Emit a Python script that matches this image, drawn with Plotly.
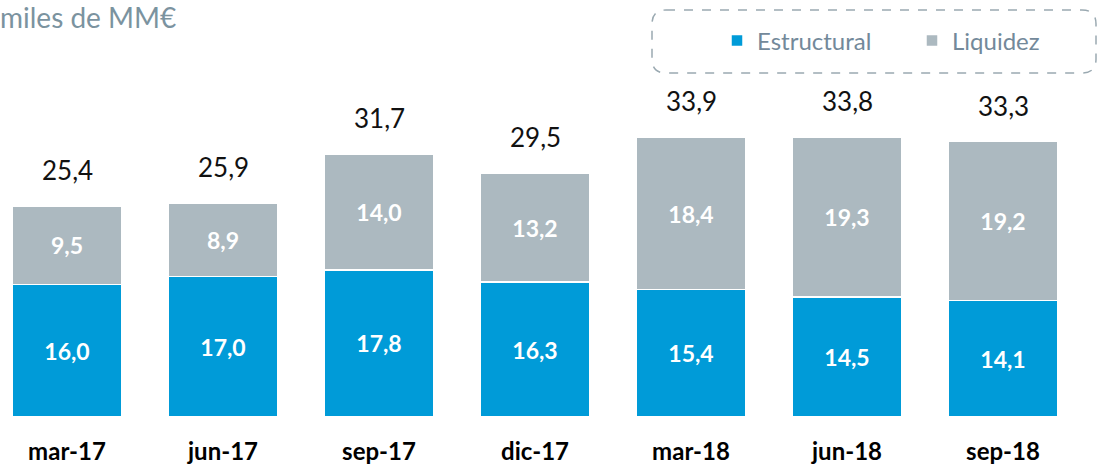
import plotly.graph_objects as go

# Periods and values (miles de MM€)
periodos = ["mar-17", "jun-17", "sep-17", "dic-17", "mar-18", "jun-18", "sep-18"]
estructural = [16.0, 17.0, 17.8, 16.3, 15.4, 14.5, 14.1]
liquidez = [9.5, 8.9, 14.0, 13.2, 18.4, 19.3, 19.2]
totales = [25.4, 25.9, 31.7, 29.5, 33.9, 33.8, 33.3]

AZUL = "#009BD8"
GRIS = "#ACB9C0"
FONT = "Lato"

W, H = 1099, 472
PLOT_H = 417  # height of the plotting area in px (bottom margin 55)


def fmt(v):
    return f"{v:.1f}".replace(".", ",")


fig = go.Figure()
fig.add_trace(go.Bar(
    x=periodos, y=estructural, name="Estructural",
    marker=dict(color=AZUL, line=dict(color="white", width=1.5)),
    text=[fmt(v) for v in estructural], textposition="inside",
    insidetextanchor="middle",
    textfont=dict(family=FONT, size=23, color="white", weight="bold"),
))
fig.add_trace(go.Bar(
    x=periodos, y=liquidez, name="Liquidez",
    marker=dict(color=GRIS, line=dict(color="white", width=1.5)),
    text=[fmt(v) for v in liquidez], textposition="inside",
    insidetextanchor="middle",
    textfont=dict(family=FONT, size=23, color="white", weight="bold"),
))

# Total labels above each stack
for p, e, l, t in zip(periodos, estructural, liquidez, totales):
    fig.add_annotation(
        x=p, y=e + l, text=fmt(t), showarrow=False,
        yanchor="bottom", yshift=18,
        font=dict(family=FONT, size=26, color="#111111"),
    )

# Unit caption
fig.add_annotation(
    xref="paper", yref="paper", x=0, y=1.0, xanchor="left", yanchor="top",
    text="miles de MM€", showarrow=False, xshift=-2, yshift=2,
    font=dict(family=FONT, size=28, color="#7B939F"),
)

# Dashed rounded frame around the legend
x0, x1 = 652 / W, 1096 / W
y_top, y_bot = (PLOT_H - 10) / PLOT_H, (PLOT_H - 73) / PLOT_H
rx, ry = 14 / W, 14 / PLOT_H
path = (
    f"M {x0 + rx},{y_top} L {x1 - rx},{y_top} "
    f"Q {x1},{y_top} {x1},{y_top - ry} L {x1},{y_bot + ry} "
    f"Q {x1},{y_bot} {x1 - rx},{y_bot} L {x0 + rx},{y_bot} "
    f"Q {x0},{y_bot} {x0},{y_bot + ry} L {x0},{y_top - ry} "
    f"Q {x0},{y_top} {x0 + rx},{y_top} Z"
)
fig.add_shape(type="path", xref="paper", yref="paper", path=path,
              line=dict(color="#9AA9B1", width=1.5, dash="dash"))

fig.update_layout(
    width=W, height=H,
    barmode="stack", bargap=0.295,
    margin=dict(l=0, r=0, t=0, b=H - PLOT_H, autoexpand=False),
    plot_bgcolor="white", paper_bgcolor="white",
    showlegend=True,
    legend=dict(
        orientation="h", x=717 / W, y=(PLOT_H - 41) / PLOT_H,
        xanchor="left", yanchor="middle",
        font=dict(family=FONT, size=24, color="#73899A"),
        traceorder="normal", entrywidth=150, entrywidthmode="pixels",
        bgcolor="rgba(0,0,0,0)",
    ),
    xaxis=dict(
        range=[-67 / 156, -67 / 156 + W / 156],
        showline=False, showgrid=False, zeroline=False, ticks="",
        ticklabelstandoff=18,
        tickfont=dict(family=FONT, size=24, color="#000000", weight="bold"),
    ),
    yaxis=dict(range=[0, PLOT_H / 8.27], visible=False),
)

fig.write_html("out.html")
